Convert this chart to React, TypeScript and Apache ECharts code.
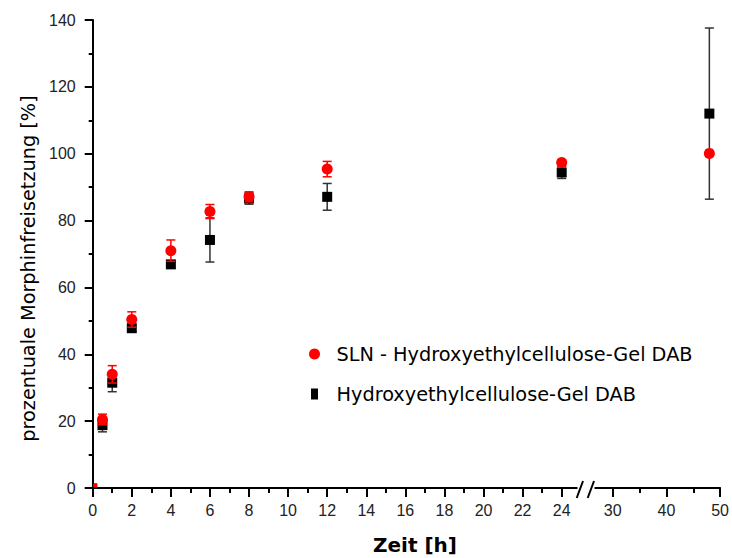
import React, { useEffect, useRef } from "react";
import * as echarts from "echarts";

// ---- data ----
const times = [0, 0.5, 1, 2, 4, 6, 8, 12, 24, 48];
const slnMean = [0, 20.5, 34.0, 50.4, 71.0, 82.7, 87.1, 95.4, 97.4, 100.1];
const slnSd = [0, 1.6, 2.6, 2.3, 3.2, 2.1, 1.5, 2.3, 0.8, 0];
const hecMean = [0, 18.8, 31.5, 47.8, 66.9, 74.2, 86.6, 87.1, 94.4, 112.0];
const hecSd = [0, 2.0, 2.7, 1.0, 0.8, 6.6, 1.7, 4.0, 1.8, 25.6];
const yTicks = { min: 0, max: 140, interval: 20 };
const seg1 = { min: 0, max: 24, interval: 2 };
const seg2 = { min: 30, max: 50, interval: 10 };

const SLN_NAME = "SLN - Hydroxyethylcellulose-Gel DAB";
const HEC_NAME = "Hydroxyethylcellulose-Gel DAB";
const Y_TITLE = "prozentuale Morphinfreisetzung [%]";
const X_TITLE = "Zeit [h]";

// ---- layout ----
const W = 732;
const H = 558;
const G1 = { left: 92.7, right: W - 561.7, top: 20, bottom: H - 488 };
const G2 = { left: 612.7, right: W - 721, top: 20, bottom: H - 488 };
const AXIS_Y = 488;
const TICK_FONT = "Liberation Sans";
const TITLE_FONT = "DejaVu Sans";

function buildPoints(mean: number[], sd: number[], seg: number) {
  const out: any[] = [];
  times.forEach((t, i) => {
    const inSeg = seg === 0 ? t <= seg1.max : t > seg1.max;
    if (!inSeg) return;
    if (t === 0) {
      out.push({ value: [t, mean[i], sd[i]], symbol: "rect", symbolSize: 4, symbolOffset: [2.5, -2.5] });
    } else {
      out.push({ value: [t, mean[i], sd[i]] });
    }
  });
  return out;
}

function errorRenderer(color: string) {
  return (params: any, api: any) => {
    const x = api.value(0);
    const y = api.value(1);
    const e = api.value(2);
    if (!e) return null;
    const top = api.coord([x, y + e]);
    const bot = api.coord([x, y - e]);
    const hw = 4.5;
    const style = { stroke: color, lineWidth: 1.5, fill: "none" };
    return {
      type: "group",
      children: [
        { type: "line", shape: { x1: top[0], y1: top[1], x2: bot[0], y2: bot[1] }, style },
        { type: "line", shape: { x1: top[0] - hw, y1: top[1], x2: top[0] + hw, y2: top[1] }, style },
        { type: "line", shape: { x1: bot[0] - hw, y1: bot[1], x2: bot[0] + hw, y2: bot[1] }, style },
      ],
    };
  };
}

export default function App() {
  const ref = useRef<HTMLDivElement>(null);
  useEffect(() => {
    if (!ref.current) return;
    const chart = echarts.init(ref.current, null, { renderer: "svg" });

    const series: any[] = [];
    [0, 1].forEach((seg) => {
      series.push({
        type: "custom",
        name: "hecErr" + seg,
        xAxisIndex: seg,
        yAxisIndex: seg,
        renderItem: errorRenderer("#333"),
        data: buildPoints(hecMean, hecSd, seg),
        encode: { x: 0, y: 1 },
        z: 2,
        silent: true,
      });
      series.push({
        type: "scatter",
        name: HEC_NAME,
        xAxisIndex: seg,
        yAxisIndex: seg,
        symbol: "rect",
        symbolSize: 10,
        itemStyle: { color: "#000", opacity: 1 },
        data: buildPoints(hecMean, hecSd, seg),
        z: 3,
      });
      series.push({
        type: "custom",
        name: "slnErr" + seg,
        xAxisIndex: seg,
        yAxisIndex: seg,
        renderItem: errorRenderer("#ff0000"),
        data: buildPoints(slnMean, slnSd, seg),
        encode: { x: 0, y: 1 },
        z: 4,
        silent: true,
      });
      series.push({
        type: "scatter",
        name: SLN_NAME,
        xAxisIndex: seg,
        yAxisIndex: seg,
        symbol: "circle",
        symbolSize: 11,
        itemStyle: { color: "#ff0000", opacity: 1 },
        data: buildPoints(slnMean, slnSd, seg),
        z: 5,
      });
    });

    const axisLine = { show: true, lineStyle: { color: "#000", width: 2 } };
    const tickStyle = { color: "#000", width: 2 };
    const labelStyle = { color: "#222", fontSize: 16, fontFamily: TICK_FONT };

    const breakStyle = { stroke: "#000", lineWidth: 2 };
    const x24 = W - G1.right;
    const x30 = G2.left;

    const option: any = {
      animation: false,
      backgroundColor: "#fff",
      grid: [
        { ...G1, containLabel: false },
        { ...G2, containLabel: false },
      ],
      xAxis: [
        {
          type: "value",
          gridIndex: 0,
          min: seg1.min,
          max: seg1.max,
          interval: seg1.interval,
          axisLine,
          axisTick: { show: true, length: 9, lineStyle: tickStyle },
          minorTick: { show: true, splitNumber: 2, length: 5, lineStyle: tickStyle },
          splitLine: { show: false },
          minorSplitLine: { show: false },
          axisLabel: { ...labelStyle, margin: 14 },
        },
        {
          type: "value",
          gridIndex: 1,
          min: seg2.min,
          max: seg2.max,
          interval: seg2.interval,
          axisLine,
          axisTick: { show: true, length: 9, lineStyle: tickStyle },
          minorTick: { show: true, splitNumber: 2, length: 5, lineStyle: tickStyle },
          splitLine: { show: false },
          minorSplitLine: { show: false },
          axisLabel: { ...labelStyle, margin: 14 },
        },
      ],
      yAxis: [
        {
          type: "value",
          gridIndex: 0,
          min: yTicks.min,
          max: yTicks.max,
          interval: yTicks.interval,
          axisLine,
          axisTick: { show: true, length: 8, lineStyle: tickStyle },
          minorTick: { show: true, splitNumber: 2, length: 4, lineStyle: tickStyle },
          splitLine: { show: false },
          minorSplitLine: { show: false },
          axisLabel: { ...labelStyle, margin: 17 },
        },
        {
          type: "value",
          gridIndex: 1,
          min: yTicks.min,
          max: yTicks.max,
          interval: yTicks.interval,
          show: false,
          splitLine: { show: false },
        },
      ],
      legend: {
        orient: "vertical",
        left: 309,
        top: 343,
        padding: 0,
        itemWidth: 34,
        itemHeight: 11,
        itemGap: 18,
        selectedMode: false,
        textStyle: { color: "#000", fontSize: 19.3, fontFamily: TITLE_FONT, lineHeight: 22 },
        data: [
          { name: SLN_NAME, icon: "circle" },
          { name: HEC_NAME, icon: "path://M0,0H7V11H0Z" },
        ],
      },
      graphic: [
        { type: "line", shape: { x1: x24, y1: AXIS_Y, x2: 577.5, y2: AXIS_Y }, style: breakStyle },
        { type: "line", shape: { x1: 594.5, y1: AXIS_Y, x2: x30, y2: AXIS_Y }, style: breakStyle },
        { type: "line", shape: { x1: 576.7, y1: 498, x2: 583, y2: 481 }, style: breakStyle },
        { type: "line", shape: { x1: 587.7, y1: 498, x2: 594, y2: 481 }, style: breakStyle },
        {
          type: "text",
          x: 28,
          y: 268.5,
          rotation: Math.PI / 2,
          style: {
            text: Y_TITLE,
            fill: "#000",
            fontSize: 19.3,
            fontFamily: TITLE_FONT,
            align: "center",
            verticalAlign: "middle",
          },
        },
        {
          type: "text",
          x: 415,
          y: 545,
          style: {
            text: X_TITLE,
            fill: "#000",
            fontSize: 20,
            fontWeight: "bold",
            fontFamily: TITLE_FONT,
            align: "center",
            verticalAlign: "middle",
          },
        },
      ],
      series,
    };
    chart.setOption(option);
    return () => chart.dispose();
  }, []);
  return (
    <div
      ref={ref}
      style={{ position: "absolute", left: 0, top: 0, width: W, height: H, background: "#fff" }}
    />
  );
}
